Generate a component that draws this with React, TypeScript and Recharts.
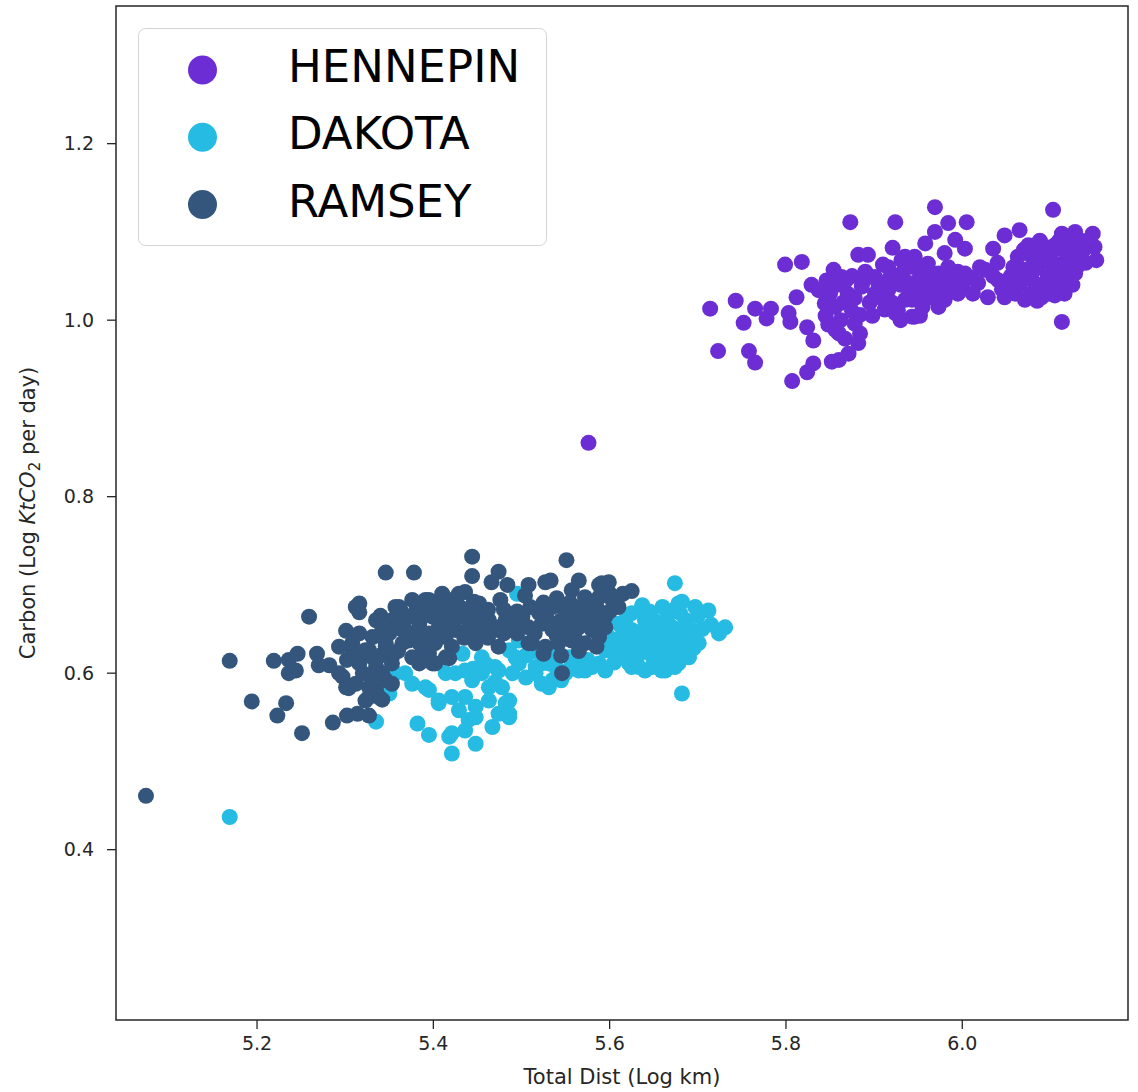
import React from 'react';
import { ScatterChart, Scatter, XAxis, YAxis, ReferenceArea, Legend } from 'recharts';

// [log total distance, log carbon] per tract
const hennepin: [number, number][] = [
  [5.873, 1.111], [5.924, 1.111], [5.921, 1.082], [5.882, 1.074], [5.893, 1.074], [5.799, 1.063], [5.818, 1.066], [5.854, 1.057],
  [5.714, 1.013], [5.743, 1.022], [5.752, 0.997], [5.765, 1.013], [5.783, 1.013], [5.778, 1.002], [5.803, 1.008], [5.805, 0.998], [5.812, 1.026],
  [5.829, 1.040], [5.846, 1.045], [5.863, 1.049], [5.824, 0.992], [5.831, 0.977],
  [5.723, 0.965], [5.758, 0.965], [5.765, 0.952], [5.807, 0.931], [5.824, 0.941], [5.831, 0.951],
  [5.852, 0.953], [5.860, 0.955], [5.871, 0.962], [5.882, 0.974], [5.884, 0.985], [5.878, 0.996], [5.884, 1.006],
  [5.856, 0.989], [5.867, 0.979], [5.844, 1.019], [5.856, 1.015], [5.837, 1.034],
  [5.886, 1.038], [5.901, 1.049], [5.916, 1.060], [5.931, 1.068], [5.946, 1.072], [5.901, 1.030], [5.916, 1.034], [5.924, 1.008], [5.943, 1.004], [5.935, 1.023], [5.946, 1.034],
  [5.969, 1.128], [5.984, 1.110], [6.005, 1.111], [6.103, 1.125], [5.969, 1.100],
  [5.958, 1.087], [5.992, 1.091], [6.003, 1.081], [5.980, 1.076],
  [6.048, 1.096], [6.065, 1.102], [6.035, 1.081],
  [6.113, 1.098], [6.128, 1.100], [6.148, 1.098], [6.150, 1.083], [6.152, 1.068],
  [6.094, 1.083], [6.109, 1.081], [6.120, 1.072], [6.124, 1.057], [6.128, 1.053],
  [6.063, 1.072], [6.079, 1.072], [6.071, 1.057], [6.086, 1.060], [6.101, 1.064], [6.097, 1.049], [6.082, 1.042], [6.109, 1.038], [6.116, 1.030],
  [6.003, 1.053], [6.026, 1.057], [6.018, 1.042], [6.041, 1.045], [6.052, 1.038], [6.029, 1.026], [6.048, 1.026], [6.071, 1.023], [6.090, 1.026],
  [6.113, 0.998],
  [5.935, 1.072], [5.946, 1.060], [5.961, 1.064], [5.973, 1.053], [5.984, 1.060], [5.939, 1.042], [5.958, 1.042], [5.977, 1.038], [5.943, 1.023], [5.965, 1.026], [5.980, 1.023], [5.946, 1.004], [5.973, 1.015], [5.927, 1.011],
  [5.895, 1.020], [5.905, 1.040], [5.912, 1.012], [5.925, 1.050], [5.950, 1.045], [5.962, 1.035], [5.955, 1.015], [5.990, 1.045], [6.000, 1.038], [5.910, 1.063], [5.890, 1.055], [5.870, 1.030], [5.875, 1.010], [5.862, 1.000], [5.845, 1.005],
  [6.075, 1.085], [6.085, 1.075], [6.100, 1.070], [6.110, 1.090], [6.120, 1.085], [6.105, 1.055], [6.092, 1.035], [6.100, 1.045], [6.065, 1.040], [6.058, 1.060], [6.130, 1.075], [6.135, 1.090], [6.118, 1.045], [6.078, 1.030], [6.060, 1.030],
  [5.888, 1.045], [5.898, 1.005], [5.908, 1.025], [5.918, 1.048], [5.920, 1.020], [5.930, 1.040], [5.933, 1.055], [5.940, 1.030], [5.952, 1.028], [5.957, 1.055],
  [5.965, 1.045], [5.970, 1.030], [5.978, 1.050], [5.985, 1.035], [5.995, 1.055], [5.995, 1.030], [5.930, 1.000], [5.952, 1.005],
  [5.850, 1.030], [5.858, 1.040], [5.868, 1.045], [5.875, 1.050], [5.865, 1.020], [5.878, 1.025], [5.848, 0.995], [5.860, 0.985],
  [6.055, 1.050], [6.068, 1.050], [6.080, 1.055], [6.090, 1.068], [6.095, 1.078], [6.105, 1.085], [6.115, 1.065], [6.122, 1.095], [6.088, 1.090], [6.070, 1.080],
  [6.060, 1.045], [6.112, 1.050], [6.125, 1.040], [6.098, 1.030], [6.085, 1.022], [6.105, 1.028], [6.138, 1.080], [6.140, 1.065], [6.130, 1.060],
  [6.010, 1.048], [6.020, 1.060], [6.035, 1.050], [6.045, 1.035], [6.012, 1.030], [6.040, 1.065],
  [5.576, 0.861],
];

const dakota: [number, number][] = [
  [5.169, 0.437],
  [5.335, 0.545], [5.382, 0.543], [5.395, 0.530], [5.418, 0.528], [5.421, 0.509], [5.448, 0.520], [5.421, 0.532],
  [5.357, 0.600], [5.350, 0.577], [5.376, 0.588], [5.395, 0.581], [5.406, 0.569], [5.414, 0.600], [5.391, 0.584],
  [5.495, 0.690],
  [5.429, 0.558], [5.440, 0.547], [5.436, 0.535], [5.436, 0.573], [5.448, 0.550], [5.448, 0.562], [5.406, 0.566],
  [5.406, 0.611], [5.425, 0.600], [5.444, 0.592], [5.463, 0.584], [5.478, 0.584], [5.486, 0.569], [5.486, 0.554], [5.467, 0.539], [5.486, 0.550],
  [5.433, 0.622], [5.455, 0.618], [5.470, 0.607], [5.497, 0.637], [5.516, 0.607], [5.523, 0.588],
  [5.463, 0.569], [5.474, 0.554], [5.482, 0.566], [5.523, 0.611], [5.493, 0.618],
  [5.674, 0.702], [5.637, 0.675], [5.682, 0.577], [5.731, 0.652], [5.724, 0.645], [5.678, 0.679], [5.697, 0.675], [5.712, 0.671],
  [5.682, 0.681], [5.671, 0.671], [5.637, 0.677], [5.640, 0.660], [5.618, 0.660],
  [5.595, 0.649], [5.610, 0.656], [5.625, 0.649], [5.640, 0.652], [5.656, 0.649], [5.671, 0.652], [5.686, 0.660], [5.693, 0.649],
  [5.701, 0.634], [5.686, 0.634], [5.671, 0.630], [5.656, 0.630], [5.640, 0.630], [5.625, 0.626], [5.610, 0.630], [5.595, 0.626],
  [5.588, 0.611], [5.625, 0.607], [5.640, 0.603], [5.659, 0.603], [5.674, 0.607], [5.690, 0.618], [5.572, 0.603], [5.554, 0.618],
  [5.531, 0.611], [5.516, 0.600], [5.497, 0.611], [5.486, 0.626], [5.474, 0.603], [5.455, 0.600], [5.436, 0.603], [5.368, 0.600], [5.421, 0.573],
  [5.678, 0.611], [5.663, 0.603], [5.648, 0.607], [5.633, 0.607], [5.622, 0.611], [5.610, 0.622], [5.595, 0.603], [5.580, 0.607],
  [5.565, 0.603], [5.550, 0.600], [5.535, 0.592], [5.531, 0.584],
  [5.686, 0.652], [5.671, 0.645], [5.656, 0.649], [5.640, 0.641], [5.625, 0.637], [5.610, 0.637], [5.595, 0.634],
  [5.600, 0.640], [5.615, 0.645], [5.632, 0.640], [5.648, 0.640], [5.662, 0.640], [5.678, 0.640], [5.695, 0.640], [5.705, 0.650],
  [5.650, 0.660], [5.665, 0.662], [5.680, 0.668], [5.700, 0.665], [5.615, 0.618], [5.632, 0.620], [5.648, 0.620], [5.665, 0.620],
  [5.680, 0.625], [5.695, 0.628], [5.605, 0.612], [5.655, 0.615], [5.715, 0.655], [5.660, 0.675], [5.645, 0.670], [5.625, 0.668],
  [5.505, 0.620], [5.515, 0.625], [5.540, 0.605], [5.555, 0.605], [5.545, 0.592], [5.560, 0.610], [5.505, 0.595], [5.490, 0.600],
  [5.460, 0.610], [5.445, 0.605], [5.470, 0.590], [5.540, 0.620], [5.575, 0.615],
];

const ramsey: [number, number][] = [
  [5.074, 0.461],
  [5.169, 0.614], [5.194, 0.568], [5.219, 0.614], [5.223, 0.552], [5.233, 0.566], [5.236, 0.615], [5.236, 0.600], [5.244, 0.603], [5.246, 0.622], [5.251, 0.532],
  [5.259, 0.664], [5.268, 0.622], [5.270, 0.609], [5.282, 0.609], [5.286, 0.544],
  [5.293, 0.630], [5.297, 0.596], [5.301, 0.648], [5.302, 0.615], [5.302, 0.552], [5.304, 0.583], [5.312, 0.675], [5.314, 0.554], [5.316, 0.679], [5.316, 0.669],
  [5.308, 0.634], [5.316, 0.645], [5.323, 0.626], [5.327, 0.552], [5.335, 0.660], [5.342, 0.649], [5.346, 0.634], [5.346, 0.714], [5.378, 0.714],
  [5.361, 0.675], [5.376, 0.683], [5.395, 0.683], [5.410, 0.690], [5.368, 0.649], [5.384, 0.656], [5.399, 0.664], [5.414, 0.664],
  [5.353, 0.618], [5.372, 0.637], [5.387, 0.622], [5.402, 0.637], [5.414, 0.641], [5.384, 0.611], [5.399, 0.611],
  [5.342, 0.600], [5.353, 0.588], [5.335, 0.581], [5.342, 0.570], [5.327, 0.573], [5.312, 0.588], [5.301, 0.584], [5.293, 0.600], [5.316, 0.611], [5.331, 0.618],
  [5.444, 0.732], [5.444, 0.710], [5.466, 0.703], [5.474, 0.715], [5.484, 0.700], [5.476, 0.683], [5.508, 0.700], [5.527, 0.703],
  [5.363, 0.671], [5.391, 0.683], [5.429, 0.690], [5.436, 0.692], [5.446, 0.681], [5.452, 0.679], [5.406, 0.679], [5.421, 0.683],
  [5.353, 0.660], [5.372, 0.664], [5.391, 0.668], [5.410, 0.671], [5.429, 0.664], [5.421, 0.668], [5.440, 0.668],
  [5.463, 0.660], [5.482, 0.660], [5.501, 0.664], [5.520, 0.668],
  [5.331, 0.641], [5.350, 0.645], [5.365, 0.649], [5.384, 0.649], [5.406, 0.652], [5.425, 0.649], [5.440, 0.652],
  [5.470, 0.649], [5.489, 0.652], [5.508, 0.652], [5.523, 0.656],
  [5.308, 0.626], [5.327, 0.626], [5.346, 0.630], [5.365, 0.634], [5.384, 0.634], [5.402, 0.634], [5.421, 0.630], [5.448, 0.637],
  [5.474, 0.630], [5.508, 0.634], [5.527, 0.630],
  [5.335, 0.607], [5.353, 0.611], [5.418, 0.617], [5.376, 0.618], [5.395, 0.622], [5.414, 0.618],
  [5.327, 0.584], [5.346, 0.592], [5.323, 0.569], [5.338, 0.573],
  [5.533, 0.705], [5.551, 0.728], [5.565, 0.705], [5.588, 0.700], [5.599, 0.703], [5.625, 0.693], [5.504, 0.688], [5.591, 0.702],
  [5.557, 0.694], [5.572, 0.686], [5.588, 0.686], [5.603, 0.683], [5.610, 0.675], [5.595, 0.664], [5.580, 0.664], [5.565, 0.668],
  [5.550, 0.671], [5.535, 0.675], [5.489, 0.656], [5.474, 0.652], [5.459, 0.652],
  [5.535, 0.649], [5.550, 0.649], [5.565, 0.652], [5.580, 0.649], [5.595, 0.652], [5.512, 0.634], [5.542, 0.634], [5.557, 0.637],
  [5.572, 0.634], [5.588, 0.641], [5.525, 0.622], [5.545, 0.620], [5.565, 0.625], [5.585, 0.630],
  [5.546, 0.600], [5.387, 0.641], [5.406, 0.645], [5.444, 0.645], [5.402, 0.611], [5.448, 0.634],
  [5.462, 0.640], [5.480, 0.645], [5.495, 0.645], [5.515, 0.645], [5.530, 0.660], [5.545, 0.660], [5.560, 0.660], [5.575, 0.655],
  [5.590, 0.658], [5.600, 0.670], [5.585, 0.675], [5.570, 0.677], [5.555, 0.680], [5.540, 0.685], [5.525, 0.680], [5.510, 0.675],
  [5.495, 0.670], [5.480, 0.672], [5.462, 0.672], [5.600, 0.690], [5.615, 0.690], [5.560, 0.645], [5.500, 0.655], [5.540, 0.642],
  [5.340, 0.665], [5.357, 0.675], [5.380, 0.670], [5.395, 0.675], [5.415, 0.680], [5.430, 0.675], [5.445, 0.660], [5.455, 0.665],
  [5.360, 0.655], [5.395, 0.645], [5.415, 0.655], [5.435, 0.640], [5.450, 0.650], [5.340, 0.620], [5.360, 0.625], [5.395, 0.630],
  [5.320, 0.600], [5.330, 0.595], [5.310, 0.620],
];

const xTicks = [5.2, 5.4, 5.6, 5.8, 6.0];
const yTicks = [0.4, 0.6, 0.8, 1.0, 1.2];
const xDomain: [number, number] = [5.04, 6.188];
const yDomain: [number, number] = [0.207, 1.356];

const counties = [
  { name: 'HENNEPIN', color: '#6c2ed4', points: hennepin },
  { name: 'DAKOTA', color: '#26bbe2', points: dakota },
  { name: 'RAMSEY', color: '#34567d', points: ramsey },
];

const FONT = 'DejaVu Sans';
const INK = '#262626';

function LegendBox() {
  return (
    <svg width={410} height={219} style={{ display: 'block' }}>
      <rect x={0.5} y={0.5} width={408} height={217} rx={7} fill="#fff" fillOpacity={0.8} stroke="#d4d4d4" />
      {counties.map((c, i) => (
        <g key={c.name}>
          <circle cx={64.5} cy={42 + i * 67.3} r={14.5} fill={c.color} />
          <text x={150} y={54 + i * 67.3} fontSize={45} fontFamily={FONT} fill="#000">
            {c.name}
          </text>
        </g>
      ))}
    </svg>
  );
}

function YTitle(props: any) {
  const vb = props.viewBox || { x: 0, y: 6, width: 116, height: 1014 };
  const cx = vb.x + 35;
  const cy = vb.y + vb.height / 2;
  return (
    <text
      x={cx}
      y={cy}
      transform={`rotate(-90, ${cx}, ${cy})`}
      textAnchor="middle"
      fontSize={21}
      fontFamily={FONT}
      fill={INK}
    >
      {'Carbon (Log '}
      <tspan fontStyle="italic">KtCO</tspan>
      <tspan fontSize={15} dy={5}>2</tspan>
      <tspan dy={-5}>{' per day)'}</tspan>
    </text>
  );
}

const dot = (color: string) => (props: any) => <circle cx={props.cx} cy={props.cy} r={8} fill={color} />;

export default function App() {
  return (
    <div style={{ position: 'absolute', left: 0, top: 0, background: '#fff' }}>
      <ScatterChart width={1138} height={1092} margin={{ top: 6, right: 10, bottom: 0, left: 0 }}>
        <XAxis
          type="number"
          dataKey="x"
          domain={xDomain}
          ticks={xTicks}
          allowDataOverflow
          tickFormatter={(v: number) => v.toFixed(1)}
          height={72}
          axisLine={false}
          tickSize={9}
          tickMargin={8}
          tickLine={{ stroke: INK, strokeWidth: 1.3 }}
          tick={{ fill: INK, fontSize: 19, fontFamily: FONT }}
          label={{ value: 'Total Dist (Log km)', position: 'insideBottom', offset: 8, fill: INK, fontSize: 21, fontFamily: FONT }}
        />
        <YAxis
          type="number"
          dataKey="y"
          domain={yDomain}
          ticks={yTicks}
          allowDataOverflow
          tickFormatter={(v: number) => v.toFixed(1)}
          width={116}
          axisLine={false}
          tickSize={9}
          tickMargin={13}
          tickLine={{ stroke: INK, strokeWidth: 1.3 }}
          tick={{ fill: INK, fontSize: 19, fontFamily: FONT }}
          label={(p: any) => <YTitle {...p} />}
        />
        <ReferenceArea
          x1={xDomain[0]}
          x2={xDomain[1]}
          y1={yDomain[0]}
          y2={yDomain[1]}
          fill="none"
          stroke={INK}
          strokeWidth={1.5}
          ifOverflow="visible"
        />
        {counties.map((c) => (
          <Scatter
            key={c.name}
            name={c.name}
            data={c.points.map(([x, y]) => ({ x, y }))}
            fill={c.color}
            shape={dot(c.color)}
            isAnimationActive={false}
          />
        ))}
        <Legend
          layout="vertical"
          align="center"
          verticalAlign="middle"
          content={() => <LegendBox />}
          wrapperStyle={{ left: 138, top: 28, width: 410, height: 219 }}
        />
      </ScatterChart>
    </div>
  );
}
